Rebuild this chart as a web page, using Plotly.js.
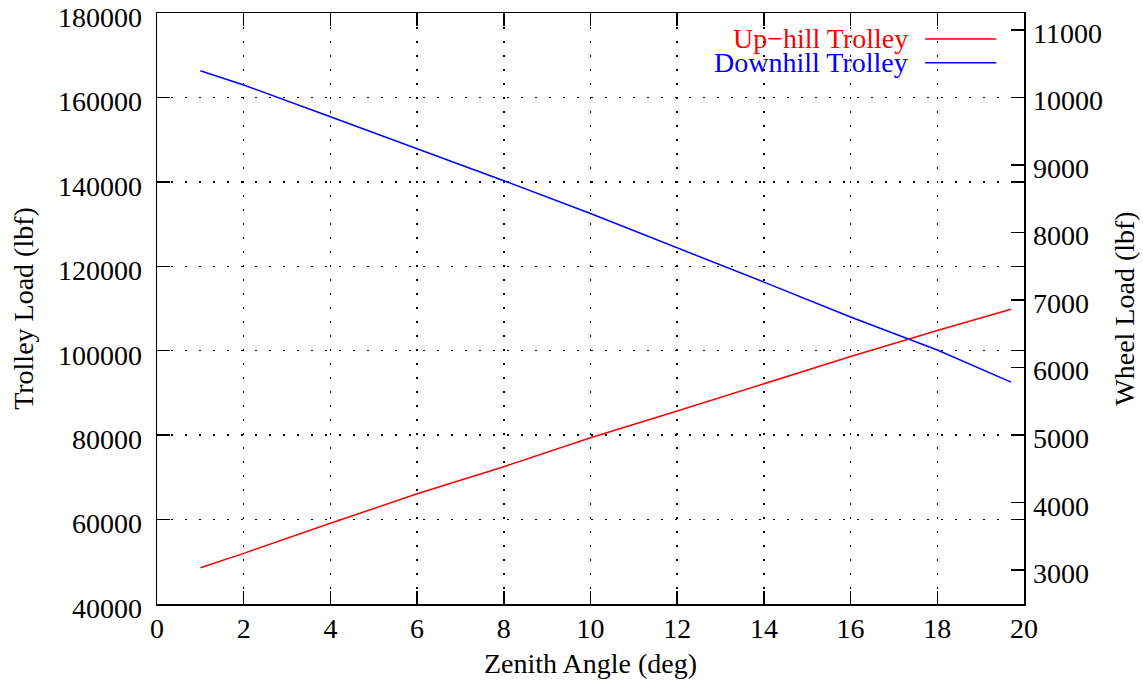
<!DOCTYPE html>
<html>
<head>
<meta charset="utf-8">
<script src="https://cdn.plot.ly/plotly-3.0.1.min.js"></script>
<style>html,body{margin:0;padding:0;background:#fff;}#chart{width:1143px;height:682px;}</style>
</head>
<body>
<div id="chart"></div>
<script>
const zenithAngle = [1, 2, 4, 6, 8, 10, 12, 14, 16, 18, 19.7];
const upHillLoad = [48600, 52000, 59120, 66100, 72520, 79390, 85710, 92150, 98610, 104780, 109800];
const downHillLoad = [166300, 162950, 155440, 147950, 140280, 132500, 124400, 116250, 108000, 100160, 92560];
const seriesNames = ["Up\u2212hill Trolley", "Downhill Trolley"];
const seriesColors = ["#ff0000", "#0000ff"];
const leftTicks = [40000, 60000, 80000, 100000, 120000, 140000, 160000, 180000];
const rightTicks = [3000, 4000, 5000, 6000, 7000, 8000, 9000, 10000, 11000];

const FONT = "Liberation Serif, Times New Roman, serif";
const FS = 28;

const traces = [
  {x: zenithAngle, y: upHillLoad, type: "scatter", mode: "lines", name: seriesNames[0],
   line: {color: seriesColors[0], width: 1.5}, xaxis: "x", yaxis: "y", showlegend: false},
  {x: zenithAngle, y: downHillLoad, type: "scatter", mode: "lines", name: seriesNames[1],
   line: {color: seriesColors[1], width: 1.5}, xaxis: "x", yaxis: "y", showlegend: false},
  {x: [], y: [], type: "scatter", mode: "lines", xaxis: "x", yaxis: "y2", showlegend: false, hoverinfo: "skip"}
];

const gridDash = "2px,12px";
const layout = {
  width: 1143, height: 682,
  margin: {l: 157, r: 119, t: 13, b: 78, pad: 0},
  paper_bgcolor: "#ffffff", plot_bgcolor: "#ffffff",
  font: {family: FONT, size: FS, color: "#000"},
  showlegend: false,
  xaxis: {
    range: [0, 20], dtick: 2, tick0: 0,
    showline: true, linecolor: "#000", linewidth: 1.5, mirror: "ticks",
    ticks: "inside", ticklen: 13, tickcolor: "#000", tickwidth: 1.5,
    showgrid: true, gridcolor: "#000", gridwidth: 1.5, griddash: gridDash,
    zeroline: false, ticklabelstandoff: -1,
    tickfont: {family: FONT, size: FS},
    title: {text: "Zenith Angle (deg)", font: {family: FONT, size: FS}, standoff: 10}
  },
  yaxis: {
    range: [40000, 180000], tickmode: "array", tickvals: leftTicks, ticktext: leftTicks.map(String),
    showline: true, linecolor: "#000", linewidth: 1.5, mirror: "ticks",
    ticks: "inside", ticklen: 13, tickcolor: "#000", tickwidth: 1.5,
    showgrid: true, gridcolor: "#000", gridwidth: 1.5, griddash: gridDash,
    zeroline: false, ticklabelstandoff: 8, ticklabelshift: 4, ticklabeloverflow: "allow",
    tickfont: {family: FONT, size: FS},
    title: {text: "Trolley Load (lbf)", font: {family: FONT, size: FS}, standoff: 16}
  },
  yaxis2: {
    overlaying: "y", side: "right", anchor: "x",
    range: [2500, 11250], tickmode: "array", tickvals: rightTicks, ticktext: rightTicks.map(String),
    showline: false,
    ticks: "inside", ticklen: 13, tickcolor: "#000", tickwidth: 1.5,
    showgrid: false, zeroline: false, ticklabelstandoff: 8, ticklabelshift: 3,
    tickfont: {family: FONT, size: FS},
    title: {text: "Wheel Load (lbf)", font: {family: FONT, size: FS}, standoff: 12}
  },
  annotations: [
    {xref: "paper", yref: "paper", x: 0.869, y: 0.957, xanchor: "right", yanchor: "middle",
     text: seriesNames[0], showarrow: false, font: {family: FONT, size: FS, color: seriesColors[0]}},
    {xref: "paper", yref: "paper", x: 0.869, y: 0.917, xanchor: "right", yanchor: "middle",
     text: seriesNames[1], showarrow: false, font: {family: FONT, size: FS, color: seriesColors[1]}}
  ],
  shapes: [
    {type: "line", xref: "paper", yref: "paper", x0: 0.886, x1: 0.968, y0: 0.956, y1: 0.956,
     line: {color: seriesColors[0], width: 1.5}},
    {type: "line", xref: "paper", yref: "paper", x0: 0.886, x1: 0.968, y0: 0.916, y1: 0.916,
     line: {color: seriesColors[1], width: 1.5}}
  ]
};

Plotly.newPlot("chart", traces, layout, {displayModeBar: false, staticPlot: true});
</script>
</body>
</html>
